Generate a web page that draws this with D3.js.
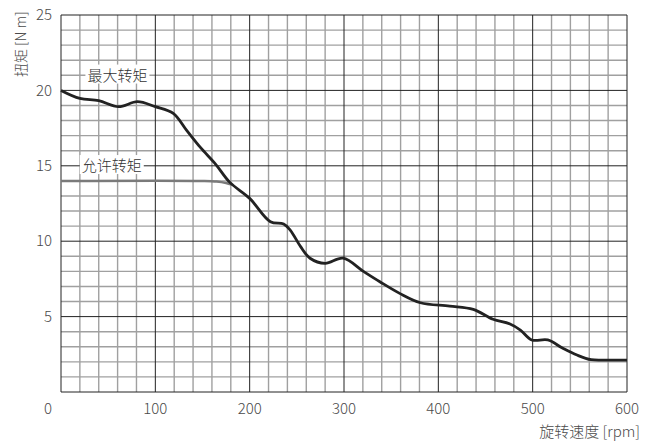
<!DOCTYPE html>
<html>
<head>
<meta charset="utf-8">
<script src="https://cdn.jsdelivr.net/npm/d3@7"></script>
<style>
    body { margin: 0; background: #fff; }
    text { font-family: "Noto Sans CJK SC", "Noto Sans", sans-serif; font-weight: 300; fill: #4a4a4a; }
</style>
</head>
<body>
<div id="chart"></div>
<script>
"use strict";

const WIDTH = 656;
const HEIGHT = 448;
const MARGIN = { top: 15, right: 29, bottom: 56, left: 61 };

// rpm, N m
const maxTorqueSpeed = [0, 20, 40, 61, 81, 100, 119, 133, 148, 164, 179, 200, 222, 236, 243, 254, 264, 280, 299, 321, 338, 359, 381, 412, 437, 458, 476, 487, 499, 516, 532, 547, 562, 580, 600];
const maxTorqueValue = [20.0, 19.47, 19.32, 18.92, 19.25, 18.92, 18.48, 17.37, 16.2, 15.1, 13.9, 12.84, 11.29, 11.14, 10.74, 9.64, 8.87, 8.53, 8.87, 7.98, 7.31, 6.54, 5.92, 5.7, 5.48, 4.82, 4.51, 4.11, 3.45, 3.45, 2.9, 2.45, 2.14, 2.12, 2.12];

const allowTorqueSpeed = [0, 150, 165, 175, 181];
const allowTorqueValue = [14, 14, 13.96, 13.86, 13.75];

const xTicks = [100, 200, 300, 400, 500, 600];
const yTicks = [5, 10, 15, 20, 25];

const X_LABEL = "旋转速度 [rpm]";
const Y_LABEL = "扭矩 [N m]";
const MAX_LABEL = "最大转矩";
const ALLOW_LABEL = "允许转矩";

const plotW = WIDTH - MARGIN.left - MARGIN.right;
const plotH = HEIGHT - MARGIN.top - MARGIN.bottom;

const x = d3.scaleLinear().domain([0, 600]).range([0, plotW]);
const y = d3.scaleLinear().domain([0, 25]).range([plotH, 0]);

const svg = d3.select("#chart")
    .append("svg")
    .attr("width", WIDTH)
    .attr("height", HEIGHT);

const plot = svg.append("g")
    .attr("transform", `translate(${MARGIN.left},${MARGIN.top})`);

// Minor grid
const minorX = d3.range(0, 601, 20).filter(v => v % 100 !== 0);
const minorY = d3.range(0, 26, 1).filter(v => v % 5 !== 0);

plot.selectAll(".minor-x")
    .data(minorX)
    .enter()
    .append("line")
    .attr("x1", d => x(d)).attr("x2", d => x(d))
    .attr("y1", 0).attr("y2", plotH)
    .attr("stroke", "#a0a0a0")
    .attr("stroke-width", 1.4);

plot.selectAll(".minor-y")
    .data(minorY)
    .enter()
    .append("line")
    .attr("x1", 0).attr("x2", plotW)
    .attr("y1", d => y(d)).attr("y2", d => y(d))
    .attr("stroke", "#a0a0a0")
    .attr("stroke-width", 1.4);

// Major grid
plot.selectAll(".major-x")
    .data([0].concat(xTicks))
    .enter()
    .append("line")
    .attr("x1", d => x(d)).attr("x2", d => x(d))
    .attr("y1", 0).attr("y2", plotH)
    .attr("stroke", "#222")
    .attr("stroke-width", 1);

plot.selectAll(".major-y")
    .data([0].concat(yTicks))
    .enter()
    .append("line")
    .attr("x1", 0).attr("x2", plotW)
    .attr("y1", d => y(d)).attr("y2", d => y(d))
    .attr("stroke", "#222")
    .attr("stroke-width", 1);

// Curve labels with white backing
function curveLabel(text, px, py) {
    const g = plot.append("g");
    const t = g.append("text")
        .attr("x", px)
        .attr("y", py)
        .attr("dy", "0.35em")
        .attr("font-size", 15)
        .style("fill", "#333")
        .text(text);
    const box = t.node().getBBox();
    g.insert("rect", "text")
        .attr("x", box.x - 2)
        .attr("y", box.y + 1)
        .attr("width", box.width + 4)
        .attr("height", box.height - 2)
        .attr("fill", "#fff");
}

curveLabel(MAX_LABEL, x(28), y(21));
curveLabel(ALLOW_LABEL, x(22), y(15));

// Curves
const line = d3.line()
    .x(d => x(d[0]))
    .y(d => y(d[1]))
    .curve(d3.curveCatmullRom.alpha(0.5));

plot.append("path")
    .datum(d3.zip(allowTorqueSpeed, allowTorqueValue))
    .attr("d", line)
    .attr("fill", "none")
    .attr("stroke", "#7a7a7a")
    .attr("stroke-width", 2.5);

plot.append("path")
    .datum(d3.zip(maxTorqueSpeed, maxTorqueValue))
    .attr("d", line)
    .attr("fill", "none")
    .attr("stroke", "#222")
    .attr("stroke-width", 2.8);

// Tick labels
plot.selectAll(".x-tick")
    .data(xTicks)
    .enter()
    .append("text")
    .attr("x", d => x(d))
    .attr("y", plotH + 17)
    .attr("dy", "0.35em")
    .attr("text-anchor", "middle")
    .attr("font-size", 15)
    .text(d => d);

plot.append("text")
    .attr("x", -13)
    .attr("y", plotH + 17)
    .attr("dy", "0.35em")
    .attr("text-anchor", "middle")
    .attr("font-size", 15)
    .text("0");

plot.selectAll(".y-tick")
    .data(yTicks)
    .enter()
    .append("text")
    .attr("x", -9)
    .attr("y", d => y(d))
    .attr("dy", "0.35em")
    .attr("text-anchor", "end")
    .attr("font-size", 15)
    .text(d => d);

// Axis titles
svg.append("text")
    .attr("x", 640)
    .attr("y", 432)
    .attr("dy", "0.35em")
    .attr("text-anchor", "end")
    .attr("font-size", 15)
    .text(X_LABEL);

svg.append("text")
    .attr("transform", "translate(26, 77) rotate(-90)")
    .attr("text-anchor", "start")
    .attr("font-size", 14)
    .text(Y_LABEL);
</script>
</body>
</html>
